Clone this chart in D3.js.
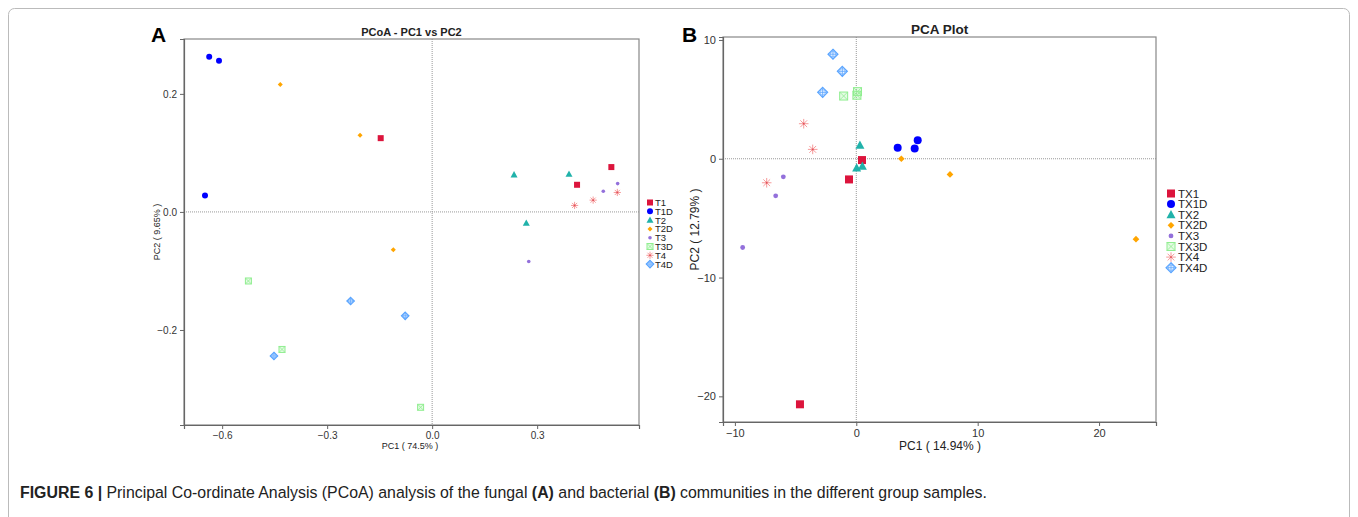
<!DOCTYPE html>
<html>
<head>
<meta charset="utf-8">
<script src="https://cdn.jsdelivr.net/npm/d3@7"></script>
<style>
  body { margin: 0; background: #fff; }
  svg { display: block; font-family: "Liberation Sans", Arial, sans-serif; }
</style>
</head>
<body>
<svg id="fig" width="1358" height="517"></svg>
<script>
// group names and colours
let groupsA = ["T1", "T1D", "T2", "T2D", "T3", "T3D", "T4", "T4D"];
let groupsB = ["TX1", "TX1D", "TX2", "TX2D", "TX3", "TX3D", "TX4", "TX4D"];
let colors = ["#dc143c", "#0000ff", "#20b2aa", "#ffa500", "#9370db", "#90ee90", "#f59090", "#5aa5ff"];
let shapes = ["square", "circle", "triangle", "diamond", "dot", "boxx", "star", "diamondplus"];

// panel A samples: [group index, PC1, PC2]
let samplesA = [
  [0, -0.147, 0.125], [0, 0.512, 0.076], [0, 0.414, 0.046],
  [1, -0.637, 0.263], [1, -0.609, 0.256], [1, -0.649, 0.028],
  [2, 0.234, 0.063], [2, 0.391, 0.064], [2, 0.269, -0.019],
  [3, -0.434, 0.216], [3, -0.206, 0.130], [3, -0.111, -0.064],
  [4, 0.489, 0.035], [4, 0.530, 0.048], [4, 0.276, -0.084],
  [5, -0.525, -0.117], [5, -0.429, -0.233], [5, -0.033, -0.331],
  [6, 0.407, 0.011], [6, 0.460, 0.020], [6, 0.529, 0.033],
  [7, -0.233, -0.151], [7, -0.077, -0.176], [7, -0.452, -0.244]
];
// panel B samples
let samplesB = [
  [0, 0.47, -0.11], [0, -0.60, -1.74], [0, -4.64, -20.67],
  [1, 3.41, 0.93], [1, 4.81, 0.87], [1, 5.06, 1.55],
  [2, 0.30, 1.15], [2, 0.03, -0.76], [2, 0.50, -0.62],
  [3, 3.71, 0.0], [3, 7.72, -1.32], [3, 23.04, -6.77],
  [4, -6.01, -1.52], [4, -6.64, -3.12], [4, -9.36, -7.47],
  [5, -1.04, 5.28], [5, 0.05, 5.35], [5, 0.10, 5.65],
  [6, -4.33, 2.95], [6, -3.59, 0.79], [6, -7.38, -2.02],
  [7, -1.92, 8.80], [7, -1.15, 7.36], [7, -2.77, 5.59]
];
let xTicksA = [-0.6, -0.3, 0.0, 0.3], yTicksA = [-0.2, 0.0, 0.2];
let xTicksB = [-10, 0, 10, 20], yTicksB = [-20, -10, 0, 10];

let svg = d3.select("#fig");

// outer frame
svg.append("rect").attr("x", 8.5).attr("y", 8.5).attr("width", 1341).attr("height", 540)
  .attr("rx", 6).attr("fill", "none").attr("stroke", "#bbb");

function marker(g, shape, color, s) {
  // s = nominal size in px
  if (shape == "square") {
    g.append("rect").attr("x", -s / 2).attr("y", -s / 2).attr("width", s).attr("height", s).attr("fill", color);
  } else if (shape == "circle") {
    g.append("circle").attr("r", s / 2).attr("fill", color);
  } else if (shape == "triangle") {
    let h = s * 0.9;
    g.append("path").attr("d", `M0,${-h / 2 - 1}L${s / 2 + 0.5},${h / 2}L${-s / 2 - 0.5},${h / 2}Z`).attr("fill", color);
  } else if (shape == "diamond") {
    let r = s * 0.42;
    g.append("path").attr("d", `M0,${-r}L${r},0L0,${r}L${-r},0Z`).attr("fill", color);
  } else if (shape == "dot") {
    g.append("circle").attr("r", s * 0.3).attr("fill", color);
  } else if (shape == "boxx") {
    let r = s / 2;
    g.append("rect").attr("x", -r).attr("y", -r).attr("width", 2 * r).attr("height", 2 * r)
      .attr("fill", color).attr("fill-opacity", 0.25).attr("stroke", color).attr("stroke-width", 1);
    g.append("path").attr("d", `M${-r},${-r}L${r},${r}M${r},${-r}L${-r},${r}`).attr("stroke", color).attr("stroke-width", 0.8);
  } else if (shape == "star") {
    let r = s * 0.6, d = r * 0.707;
    g.append("path").attr("d", `M${-r},0L${r},0M0,${-r}L0,${r}M${-d},${-d}L${d},${d}M${d},${-d}L${-d},${d}`)
      .attr("stroke", color).attr("stroke-width", 0.9);
    g.append("circle").attr("r", 0.9).attr("fill", "#e0505a");
  } else if (shape == "diamondplus") {
    let r = s * 0.62;
    g.append("path").attr("d", `M0,${-r}L${r},0L0,${r}L${-r},0Z`)
      .attr("fill", color).attr("fill-opacity", 0.12).attr("stroke", color).attr("stroke-width", 1.2);
    g.append("circle").attr("r", r * 0.55).attr("fill", "none").attr("stroke", color).attr("stroke-width", 0.6);
    g.append("path").attr("d", `M${-r},0L${r},0M0,${-r}L0,${r}`).attr("stroke", color).attr("stroke-width", 0.8);
  }
}

function panel(cfg) {
  let x = d3.scaleLinear().domain(cfg.xd).range([cfg.left, cfg.right]);
  let y = d3.scaleLinear().domain(cfg.yd).range([cfg.bottom, cfg.top]);
  let g = svg.append("g");

  // zero lines
  g.append("line").attr("x1", x(0)).attr("x2", x(0)).attr("y1", cfg.top).attr("y2", cfg.bottom)
    .attr("stroke", "#999").attr("stroke-dasharray", "1,1");
  g.append("line").attr("x1", cfg.left).attr("x2", cfg.right).attr("y1", y(0)).attr("y2", y(0))
    .attr("stroke", "#999").attr("stroke-dasharray", "1,1");

  // box
  g.append("rect").attr("x", cfg.left).attr("y", cfg.top)
    .attr("width", cfg.right - cfg.left).attr("height", cfg.bottom - cfg.top)
    .attr("fill", "none").attr("stroke", "#888").attr("stroke-width", 1.2);

  let ax = g.append("g").attr("transform", `translate(0,${cfg.bottom})`)
    .call(d3.axisBottom(x).tickValues(cfg.xt).tickFormat(cfg.fmt).tickSize(4).tickPadding(3));
  let ay = g.append("g").attr("transform", `translate(${cfg.left},0)`)
    .call(d3.axisLeft(y).tickValues(cfg.yt).tickFormat(cfg.fmt).tickSize(4).tickPadding(3));
  [ax, ay].forEach(function (a) {
    a.select(".domain").attr("stroke", "#666").attr("stroke-width", 1.2);
    a.selectAll(".tick line").attr("stroke", "#666");
    a.selectAll("text").attr("fill", "#333").style("font-size", cfg.tickFont + "px")
      .style("font-family", "Liberation Sans, Arial, sans-serif");
  });

  // titles
  g.append("text").attr("x", (cfg.left + cfg.right) / 2).attr("y", cfg.top - 3)
    .attr("text-anchor", "middle").attr("font-weight", "bold").attr("fill", "#222")
    .style("font-size", cfg.titleFont + "px").text(cfg.title);
  g.append("text").attr("x", cfg.xlabX).attr("y", cfg.bottom + cfg.xlabDy)
    .attr("text-anchor", "middle").attr("fill", "#222")
    .style("font-size", cfg.labFont + "px").text(cfg.xlab);
  g.append("text").attr("transform", `translate(${cfg.ylabX},${(cfg.top + cfg.bottom) / 2}) rotate(-90)`)
    .attr("text-anchor", "middle").attr("fill", "#222")
    .style("font-size", cfg.labFont + "px").text(cfg.ylab);
  g.append("text").attr("x", cfg.letterX).attr("y", 42).attr("font-weight", "bold")
    .style("font-size", "21px").attr("fill", "#000").text(cfg.letter);

  // points
  g.selectAll("g.pt").data(cfg.samples).enter().append("g")
    .attr("class", "pt")
    .attr("transform", d => `translate(${x(d[1])},${y(d[2])})`)
    .each(function (d) { marker(d3.select(this), shapes[d[0]], colors[d[0]], cfg.ms); });

  // legend
  cfg.groups.forEach(function (name, i) {
    let yy = cfg.legY + i * cfg.legStep;
    let mg = g.append("g").attr("transform", `translate(${cfg.legX},${yy})`);
    marker(mg, shapes[i], colors[i], cfg.legMs);
    g.append("text").attr("x", cfg.legX + cfg.legGap).attr("y", yy).attr("dy", "0.36em")
      .attr("fill", "#222").style("font-size", cfg.legFont + "px").text(name);
  });
}

panel({
  samples: samplesA, groups: groupsA, letter: "A", letterX: 151,
  xd: [-0.709, 0.591], yd: [-0.361, 0.293], left: 184, right: 639, top: 39, bottom: 425,
  xt: xTicksA, yt: yTicksA, fmt: d3.format(".1f"),
  title: "PCoA - PC1 vs PC2", xlab: "PC1 ( 74.5% )", ylab: "PC2 ( 9.65% )",
  xlabX: 410, xlabDy: 23.5, ylabX: 160,
  tickFont: 10, labFont: 9, titleFont: 11, ms: 6,
  legX: 650, legY: 202.5, legStep: 8.8, legGap: 5, legFont: 9.5, legMs: 6
});
panel({
  samples: samplesB, groups: groupsB, letter: "B", letterX: 682,
  xd: [-10.98, 24.69], yd: [-22.16, 10.25], left: 723, right: 1156, top: 37, bottom: 422,
  xt: xTicksB, yt: yTicksB, fmt: d3.format("d"),
  title: "PCA Plot", xlab: "PC1 ( 14.94% )", ylab: "PC2 ( 12.79% )",
  xlabX: 940, xlabDy: 27.5, ylabX: 699,
  tickFont: 11, labFont: 12, titleFont: 13.5, ms: 8,
  legX: 1171, legY: 193.5, legStep: 10.6, legGap: 7, legFont: 11.5, legMs: 8
});

// caption, squeezed to the condensed width of the original
let cap = svg.append("text").attr("x", 0).attr("y", 0)
  .style("font-family", "Liberation Sans, Arial, sans-serif")
  .style("font-size", "17px").attr("fill", "#222");
cap.append("tspan").attr("font-weight", "bold").text("FIGURE 6 | ");
cap.append("tspan").text("Principal Co-ordinate Analysis (PCoA) analysis of the fungal ");
cap.append("tspan").attr("font-weight", "bold").text("(A)");
cap.append("tspan").text(" and bacterial ");
cap.append("tspan").attr("font-weight", "bold").text("(B)");
cap.append("tspan").text(" communities in the different group samples.");
let capW = cap.node().getComputedTextLength();
cap.attr("transform", `translate(20,498) scale(${968 / capW},1)`);
</script>
</body>
</html>
